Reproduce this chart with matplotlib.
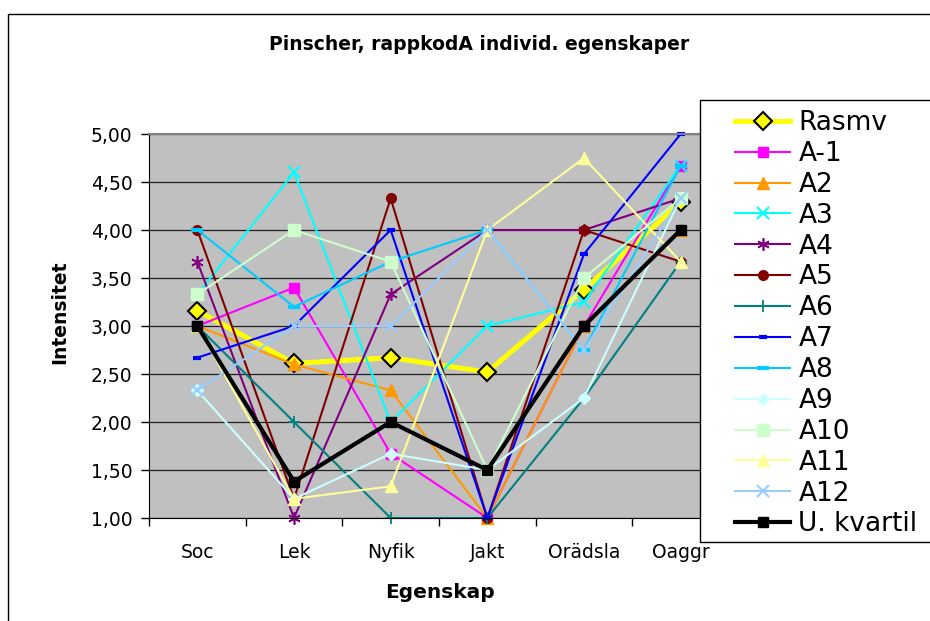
"""Pinscher, rappkodA - individual trait scores per dog, line chart."""
import matplotlib

matplotlib.use("Agg")
import matplotlib.pyplot as plt  # noqa: E402
from matplotlib.patches import Rectangle  # noqa: E402
from matplotlib.ticker import FixedLocator, FuncFormatter  # noqa: E402

W, H = 930, 621

categories = ["Soc", "Lek", "Nyfik", "Jakt", "Orädsla", "Oaggr"]

rasmv = [3.16, 2.61, 2.67, 2.52, 3.38, 4.29]
a1 = [3.00, 3.40, 1.67, 1.00, 3.00, 4.67]
a2 = [3.00, 2.60, 2.33, 1.00, 3.00, 4.00]
a3 = [3.33, 4.60, 2.00, 3.00, 3.25, 4.67]
a4 = [3.67, 1.00, 3.33, 4.00, 4.00, 4.33]
a5 = [4.00, 1.20, 4.33, 1.00, 4.00, 3.67]
a6 = [3.00, 2.00, 1.00, 1.00, 2.25, 3.67]
a7 = [2.67, 3.00, 4.00, 1.00, 3.75, 5.00]
a8 = [4.00, 3.20, 3.67, 4.00, 2.75, 4.67]
a9 = [2.33, 1.20, 1.67, 1.50, 2.25, 4.33]
a10 = [3.33, 4.00, 3.67, 1.50, 3.50, 4.33]
a11 = [3.00, 1.20, 1.33, 4.00, 4.75, 3.67]
a12 = [2.33, 3.00, 3.00, 4.00, 2.75, 4.33]
u_kvartil = [3.00, 1.38, 2.00, 1.50, 3.00, 4.00]

y_ticks = [1.0, 1.5, 2.0, 2.5, 3.0, 3.5, 4.0, 4.5, 5.0]

# (label, values, colour, line width, marker style)
series = [
    ("Rasmv", rasmv, "#FFFF00", 3.6, dict(marker="D", ms=9.5, mfc="#FFFF00", mec="black", mew=1.5)),
    ("A-1", a1, "#FF00FF", 1.5, dict(marker="s", ms=7)),
    ("A2", a2, "#FF9900", 1.5, dict(marker="^", ms=8)),
    ("A3", a3, "#00FFFF", 1.5, dict(marker="x", ms=8, mew=1.5)),
    ("A4", a4, "#800080", 1.5, dict(marker=(6, 2, 0), ms=9, mew=1.2)),
    ("A5", a5, "#800000", 1.5, dict(marker="o", ms=7)),
    ("A6", a6, "#008080", 1.5, dict(marker="+", ms=9, mew=1.3)),
    ("A7", a7, "#0000FF", 1.5, dict(marker="_", ms=6, mew=3)),
    ("A8", a8, "#00CCFF", 1.5, dict(marker="_", ms=9, mew=3)),
    ("A9", a9, "#CCFFFF", 1.5, dict(marker="D", ms=6)),
    ("A10", a10, "#CCFFCC", 1.5, dict(marker="s", ms=8)),
    ("A11", a11, "#FFFF99", 1.5, dict(marker="^", ms=9)),
    ("A12", a12, "#99CCFF", 1.5, dict(marker="x", ms=8, mew=1.5)),
    ("U. kvartil", u_kvartil, "#000000", 3.0, dict(marker="s", ms=7)),
]


def fx(x):
    return x / W


def fy(y):
    return 1 - y / H


def main() -> None:
    fig = plt.figure(figsize=(W / 100, H / 100), dpi=100)
    fig.patches.append(Rectangle((fx(8), fy(700)), 1.2, fy(14) - fy(700),
                                 transform=fig.transFigure, fill=False,
                                 edgecolor="black", lw=1, zorder=0))

    ax = fig.add_axes([fx(149), fy(518), fx(729) - fx(149), fy(134) - fy(518)])
    ax.set_facecolor("#C0C0C0")

    x = list(range(len(categories)))
    handles = []
    for label, values, color, lw, mk in series:
        mk = dict(mk)
        mk.setdefault("mfc", color)
        mk.setdefault("mec", color)
        (line,) = ax.plot(x, values, color=color, lw=lw, label=label,
                          clip_on=False, **mk)
        handles.append(line)

    ax.set_xlim(-0.5, len(categories) - 0.5)
    ax.set_ylim(1, 5)
    ax.set_yticks(y_ticks)
    ax.yaxis.set_major_formatter(FuncFormatter(lambda v, _: f"{v:.2f}".replace(".", ",")))
    ax.grid(axis="y", color="#202020", lw=0.9)
    ax.set_axisbelow(True)

    ax.set_xticks(x)
    ax.set_xticklabels(categories)
    ax.xaxis.set_minor_locator(FixedLocator([i - 0.5 for i in range(len(categories) + 1)]))
    ax.tick_params(axis="x", which="major", length=0, pad=18, labelsize=13.5)
    ax.tick_params(axis="x", which="minor", length=6, direction="out", width=1)
    ax.tick_params(axis="y", length=6, direction="out", width=1, pad=6, labelsize=13.5)

    for side in ("left", "bottom"):
        ax.spines[side].set_color("black")
    for side in ("top", "right"):
        ax.spines[side].set_color("#808080")
        ax.spines[side].set_linewidth(1.5)

    fig.text(fx(479), fy(45), "Pinscher, rappkodA individ. egenskaper",
             ha="center", va="center", fontsize=13.5, fontweight="bold")
    fig.text(fx(440), fy(592), "Egenskap", ha="center", va="center",
             fontsize=14.5, fontweight="bold")
    fig.text(fx(60), fy(312), "Intensitet", ha="center", va="center",
             rotation=90, fontsize=13.5, fontweight="bold")

    # legend box sits over the right edge of the plot, as in the original
    fig.patches.append(Rectangle((fx(700), fy(542)), 0.4, fy(100) - fy(542),
                                 transform=fig.transFigure, facecolor="white",
                                 edgecolor="black", lw=1, zorder=3))
    fig.legend(handles=handles, loc="upper left", bbox_to_anchor=(fx(735), fy(110)),
               frameon=False, fontsize=19, numpoints=1, handlelength=2.1,
               handletextpad=0.3, labelspacing=0.185, borderpad=0, borderaxespad=0)

    fig.savefig("out.png", dpi=100)


if __name__ == "__main__":
    main()
